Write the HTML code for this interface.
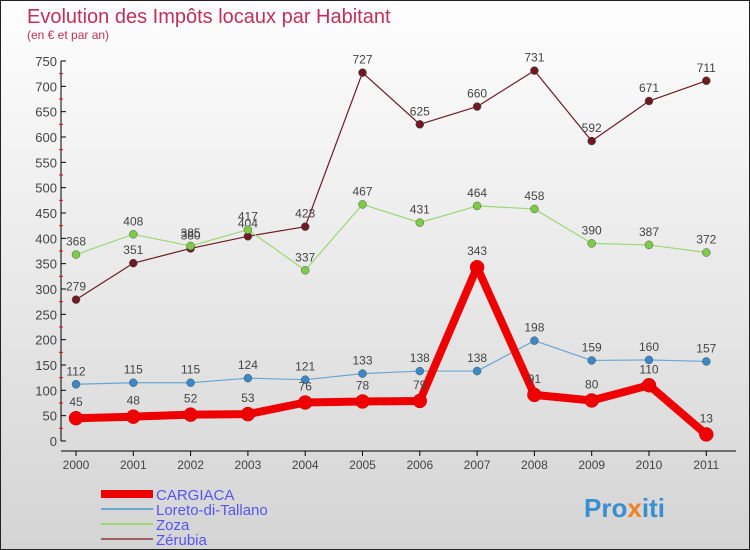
<!DOCTYPE html>
<html><head><meta charset="utf-8"><style>
body{margin:0}
#wrap{width:750px;height:550px;position:relative;overflow:hidden;font-family:"Liberation Sans",sans-serif;background:linear-gradient(#fefefe,#d4d4d4);border:1px solid #222;box-sizing:border-box}
</style></head><body>
<div id="wrap">
<svg id="c" width="750" height="550">
<text x="26" y="22" font-size="20" fill="#c0305a">Evolution des Impôts locaux par Habitant</text>
<text x="26" y="38" font-size="12" fill="#c0305a">(en € et par an)</text>
<text x="583" y="516" font-size="26" font-weight="bold" fill="#3a8fd0">Pro<tspan fill="#f08020">x</tspan>iti</text>
</svg></div>
<script>
const years=[2000,2001,2002,2003,2004,2005,2006,2007,2008,2009,2010,2011];
const yTicks=[0,50,100,150,200,250,300,350,400,450,500,550,600,650,700,750];
const cargiaca=[45,48,52,53,76,78,79,343,91,80,110,13];
const loreto=[112,115,115,124,121,133,138,138,198,159,160,157];
const zoza=[368,408,385,417,337,467,431,464,458,390,387,372];
const zerubia=[279,351,380,404,423,727,625,660,731,592,671,711];
const names=["CARGIACA","Loreto-di-Tallano","Zoza","Zérubia"];
const svg=document.getElementById('c');const NS="http://www.w3.org/2000/svg";
const X=i=>75+i*57.3, Y=v=>440-v*380/750;
function mk(t,a,p){const e=document.createElementNS(NS,t);for(const k in a)e.setAttribute(k,a[k]);(p||svg).appendChild(e);return e;}
let ax=mk('line',{x1:60,y1:60,x2:60,y2:440,stroke:'#000'});


let xa=mk('line',{x1:60,y1:450,x2:735,y2:450,stroke:'#000'});


yTicks.forEach(v=>{mk('line',{x1:60,y1:Y(v),x2:65,y2:Y(v),stroke:'#000'});
 if(v<750)mk('line',{x1:58,y1:Y(v+25),x2:62,y2:Y(v+25),stroke:'#e00'});
 const t=mk('text',{x:56,y:Y(v)+5,'text-anchor':'end','font-size':13,fill:'#444'});t.textContent=v;
 
 });
years.forEach((y,i)=>{mk('line',{x1:X(i),y1:450,x2:X(i),y2:455,stroke:'#000'});
 const t=mk('text',{x:X(i),y:468,'text-anchor':'middle','font-size':12,fill:'#444'});t.textContent=y;
 
 });
const series=[[zerubia,'#6e1a22','#6e1a22',1.2,4,'zerubia'],[zoza,'#9bd874','#7ccc48',1.2,4,'zoza'],[loreto,'#6aa6d4','#3a88c8',1.2,4,'loreto'],[cargiaca,'#ee0000','#ee0000',8,7,'cargiaca']];
series.forEach(([d,lc,pc,w,r,n])=>{
 const g=mk('g',{});
 
 
 mk('polyline',{points:d.map((v,i)=>X(i)+','+Y(v)).join(' '),fill:'none',stroke:lc,'stroke-width':w,'stroke-linejoin':'round'},g);
 d.forEach((v,i)=>{const c=mk('circle',{cx:X(i),cy:Y(v),r:r,fill:pc,stroke:w>2?'#c00':'#555','stroke-width':0.5},g);
  
  
  const t=mk('text',{x:X(i),y:Y(v)-(w>2?12:9),'text-anchor':'middle','font-size':12,fill:'#444'},g);t.textContent=v;
  
  });
});
const lc=['#ee0000','#6aa6d4','#9bd874','#a06060'],lw=[8,2,2,2];
names.forEach((n,i)=>{const y=493+i*15;
 const l=mk('line',{x1:100,y1:y,x2:152,y2:y,stroke:lc[i],'stroke-width':lw[i]});
 
 
 const t=mk('text',{x:155,y:y+6,'font-size':15,fill:'#5555ee'});t.textContent=n;
 
 });
</script></body></html>
